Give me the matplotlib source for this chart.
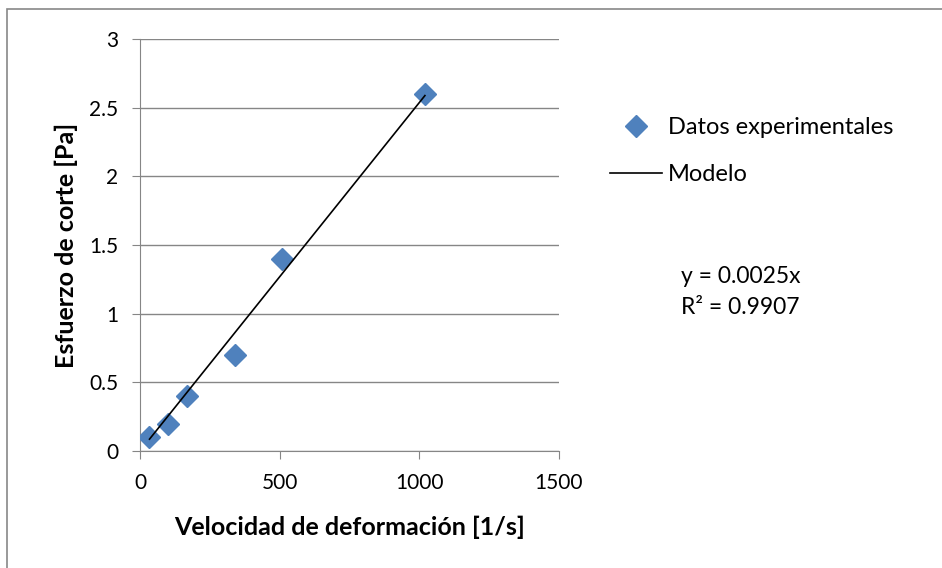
import numpy as np
import matplotlib.pyplot as plt
from matplotlib.patches import Rectangle

# shear rate [1/s] and shear stress [Pa]
shear_rate = [34, 102, 170, 340, 510, 1020]
shear_stress = [0.1, 0.2, 0.4, 0.7, 1.4, 2.6]
x_ticks = [0, 500, 1000, 1500]
y_ticks = [0, 0.5, 1, 1.5, 2, 2.5, 3]
y_tick_labels = ["0", "0.5", "1", "1.5", "2", "2.5", "3"]
equation_text = "y = 0.0025x\nR² = 0.9907"

plt.rcParams["font.family"] = ["Lato", "DejaVu Sans"]

GRAY = "#868686"
BLUE = "#4F81BD"

x = np.asarray(shear_rate, dtype=float)
y = np.asarray(shear_stress, dtype=float)
# trendline through the origin (least squares)
slope = np.sum(x * y) / np.sum(x * x)
x_fit = np.array([x.min(), x.max()])

fig = plt.figure(figsize=(9.42, 5.68), dpi=100)
ax = fig.add_axes([140 / 942, 1 - 451 / 568, 419 / 942, 412 / 568])

ax.plot(x, y, linestyle="none", marker="D", markersize=11.5, color=BLUE,
        label="Datos experimentales", zorder=3)
ax.plot(x_fit, slope * x_fit, color="black", linewidth=1.2, label="Modelo", zorder=4)

ax.set_xlim(0, 1500)
ax.set_ylim(0, 3)
ax.set_xticks(x_ticks)
ax.set_yticks(y_ticks, y_tick_labels)
ax.yaxis.grid(True, color=GRAY, linewidth=1.0)
ax.set_axisbelow(True)
for side in ("top", "right"):
    ax.spines[side].set_visible(False)
for side in ("left", "bottom"):
    ax.spines[side].set_color(GRAY)
ax.tick_params(direction="out", length=5.8, color=GRAY, labelsize=15, pad=10)

ax.set_xlabel("Velocidad de deformación [1/s]", fontsize=18, fontweight="bold", labelpad=16)
ax.set_ylabel("Esfuerzo de corte [Pa]", fontsize=18, fontweight="bold", labelpad=8)

fig.legend(loc="upper left", bbox_to_anchor=(589 / 942, 1 - 96 / 568), frameon=False,
           fontsize=17, handlelength=2.2, handletextpad=0.25, labelspacing=1.1)

fig.text(681 / 942, 1 - 292 / 568, equation_text, fontsize=16.5, ha="left", va="center",
         linespacing=1.55)

fig.patches.append(Rectangle((7 / 942, -0.1), 1.2, 1 - 9 / 568 + 0.1, transform=fig.transFigure,
                             fill=False, edgecolor="#878787", linewidth=1.2))

fig.savefig("out.png", dpi=100)
